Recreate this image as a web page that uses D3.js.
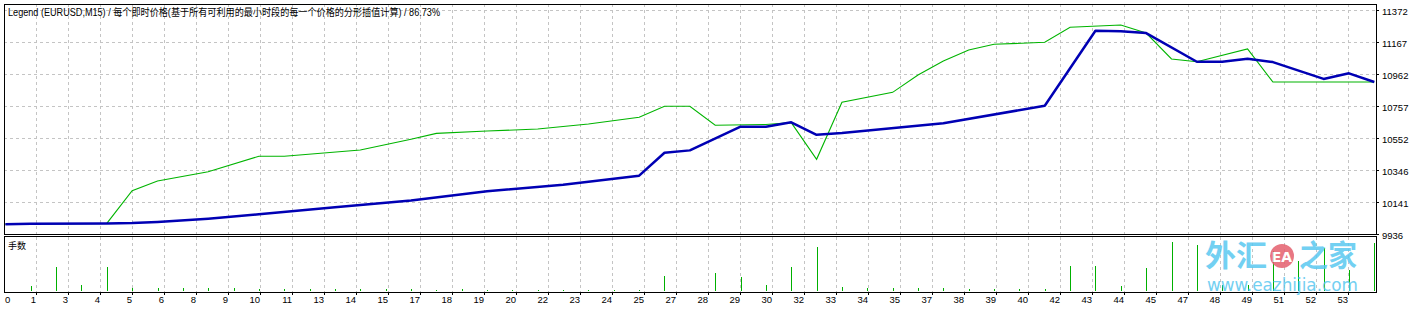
<!DOCTYPE html>
<html><head><meta charset="utf-8">
<script src="https://cdn.jsdelivr.net/npm/d3@7"></script>
<style>
html,body{margin:0;padding:0;background:#fff;}
svg{display:block;}
</style></head>
<body>
<svg id="c" width="1421" height="309"></svg>
<script>
// ---- data ----
const titleText = "Legend (EURUSD,M15) / 每个即时价格(基于所有可利用的最小时段的每一个价格的分形插值计算) / 86.73%";
const subTitle = "手数";
const yTickLabels = ["9936","10141","10346","10552","10757","10962","11167","11372"];
const xTickLabels = ["0","1","3","4","5","6","8","9","10","11","13","14","15","17","18","19","20","22","23","24","25","27","28","29","30","32","33","34","35","37","38","39","40","42","43","44","45","47","48","49","51","52","53"];

const balanceTrades = [0,1,4,5,6,8,10,13,16,19,22,25,26,27,29,30,31,32,33,37,41,43,44,45,47,48,49,50,52,53,54];
const balanceValues = [10000,10004,10006,10008,10015,10036,10064,10110,10153,10212,10254,10312,10459,10474,10626,10626,10654,10574,10585,10648,10760,11241,11238,11226,11042,11042,11062,11040,10932,10968,10912];

const equityTrades = [0,4,5,6,8,10,11,14,16,17,19,21,23,25,26,27,28,30,31,32,33,35,36,37,38,39,41,42,44,45,46,47,49,50,54];
const equityValues = [10000,10006,10215,10278,10337,10436,10436,10476,10545,10583,10598,10611,10643,10686,10757,10757,10635,10640,10652,10417,10782,10846,10957,11047,11118,11154,11167,11263,11278,11226,11060,11042,11124,10912,10912];

const lotTrades = [1,2,3,4,5,6,7,8,9,10,11,12,13,14,15,16,17,18,19,20,21,22,23,24,25,26,28,29,30,31,32,33,34,35,36,37,38,39,40,41,42,43,44,45,46,47,48,49,50,51,52,53,54];
const lotValues = [0.05,0.24,0.06,0.24,0.03,0.03,0.03,0.03,0.03,0.02,0.02,0.02,0.02,0.02,0.02,0.02,0.01,0.02,0.01,0.01,0.01,0.01,0.01,0.01,0.01,0.15,0.18,0.14,0.06,0.24,0.44,0.04,0.03,0.03,0.03,0.03,0.02,0.02,0.02,0.02,0.25,0.25,0.05,0.23,0.49,0.46,0.06,0.06,0.40,0.30,0.43,0.21,0.48];

// ---- layout ----
const svg = d3.select("#c");
const L = 4, R = 1376;
const mainTop = 4, mainBot = 234;
const subTop = 237, subBot = 292;

const x = d3.scaleLinear().domain([0, 54]).range([5.4, 1374.3]);
const y = d3.scaleLinear().domain([9936, 11372]).range([234.3, 10.3]);
const yLot = d3.scaleLinear().domain([0, 0.55]).range([291, 236]);
const gridX = d3.scaleLinear().domain([0, 42]).range([4, 1348]);

const gridColor = "#c4c4c4";
const FONT = "'Liberation Sans', Arial, 'Noto Sans CJK SC', sans-serif";

// vertical grid lines (both panels)
const gx = svg.append("g").attr("shape-rendering","crispEdges");
xTickLabels.forEach((t,i)=>{
  if(i===0) return;
  const px = Math.round(gridX(i)) + 0.5;
  gx.append("line").attr("x1",px).attr("x2",px).attr("y1",mainTop).attr("y2",mainBot)
    .attr("stroke",gridColor).attr("stroke-dasharray","3,3");
  gx.append("line").attr("x1",px).attr("x2",px).attr("y1",subTop).attr("y2",subBot)
    .attr("stroke",gridColor).attr("stroke-dasharray","3,3");
  gx.append("line").attr("x1",px).attr("x2",px).attr("y1",subBot).attr("y2",subBot+3)
    .attr("stroke","#000");
});
// horizontal grid lines
yTickLabels.forEach((t,i)=>{
  const py = Math.round(y(+t)) + 0.5;
  if(i>0) gx.append("line").attr("x1",L).attr("x2",R).attr("y1",py).attr("y2",py)
    .attr("stroke",gridColor).attr("stroke-dasharray","3,3");
  gx.append("line").attr("x1",R).attr("x2",R+3).attr("y1",py).attr("y2",py).attr("stroke","#000");
});

// lot bars
const bars = svg.append("g").attr("shape-rendering","crispEdges");
lotTrades.forEach((t,i)=>{
  const px = Math.round(x(t)) + 0.5;
  bars.append("line").attr("x1",px).attr("x2",px)
    .attr("y1",yLot(0)).attr("y2",yLot(lotValues[i]))
    .attr("stroke","#00b000").attr("stroke-width",1);
});

// lines
const line = d3.line().x(d=>x(d[0])).y(d=>y(d[1]));
const eqData = equityTrades.map((t,i)=>[t,equityValues[i]]);
const balData = balanceTrades.map((t,i)=>[t,balanceValues[i]]);
svg.append("path").attr("d",line(eqData)).attr("fill","none")
  .attr("stroke","#00b400").attr("stroke-width",1.1);
svg.append("path").attr("d",line(balData)).attr("fill","none")
  .attr("stroke","#0000b4").attr("stroke-width",2.5).attr("stroke-linejoin","round");

// panel borders
svg.append("rect").attr("x",L+0.5).attr("y",mainTop+0.5).attr("width",R-L).attr("height",mainBot-mainTop)
  .attr("fill","none").attr("stroke","#000").attr("shape-rendering","crispEdges");
svg.append("rect").attr("x",L+0.5).attr("y",subTop-0.5).attr("width",R-L).attr("height",subBot-subTop+0.5)
  .attr("fill","none").attr("stroke","#000").attr("shape-rendering","crispEdges");

// y labels
yTickLabels.forEach(t=>{
  svg.append("text").attr("x",1382).attr("y",y(+t)+4.6)
    .attr("font-family",FONT).attr("font-size","9.5px").attr("fill","#000").text(t);
});
// x labels
xTickLabels.forEach((t,i)=>{
  const px = gridX(i);
  svg.append("text").attr("x", i===0 ? 5 : px).attr("y",303)
    .attr("text-anchor", i===0 ? "start" : "end")
    .attr("font-family",FONT).attr("font-size","9.5px").attr("fill","#000").text(t);
});

// title
svg.append("text").attr("x",8).attr("y",16).attr("font-family",FONT).attr("font-size","10px")
  .attr("fill","#000").attr("textLength",432).attr("lengthAdjust","spacingAndGlyphs").text(titleText);
svg.append("text").attr("x",8).attr("y",249).attr("font-family","'Noto Sans CJK SC', sans-serif")
  .attr("font-size","9px").attr("fill","#000").text(subTitle);

// watermark
const wm = svg.append("g").attr("opacity",0.85);
const blue = "#5ac8f0";
wm.append("text").attr("x",1205).attr("y",266).attr("font-family","'Noto Sans CJK SC', sans-serif")
  .attr("font-size","30px").attr("font-weight","bold").attr("fill",blue)
  .attr("textLength",62).attr("lengthAdjust","spacingAndGlyphs").text("外汇");
wm.append("circle").attr("cx",1282).attr("cy",256).attr("r",12).attr("fill","#e5606e");
wm.append("text").attr("x",1282).attr("y",261.5).attr("text-anchor","middle")
  .attr("font-family","'DejaVu Sans', sans-serif").attr("font-weight","bold")
  .attr("font-size","14px").attr("fill","#fff").text("EA");
wm.append("text").attr("x",1299).attr("y",266).attr("font-family","'Noto Sans CJK SC', sans-serif")
  .attr("font-size","30px").attr("font-weight","bold").attr("fill",blue)
  .attr("textLength",58).attr("lengthAdjust","spacingAndGlyphs").text("之家");
wm.append("text").attr("x",1207).attr("y",291).attr("font-family","'DejaVu Sans', sans-serif")
  .attr("font-size","17px").attr("fill",blue).attr("textLength",151).attr("lengthAdjust","spacingAndGlyphs")
  .text("www.eazhijia.com");
</script>
</body></html>
